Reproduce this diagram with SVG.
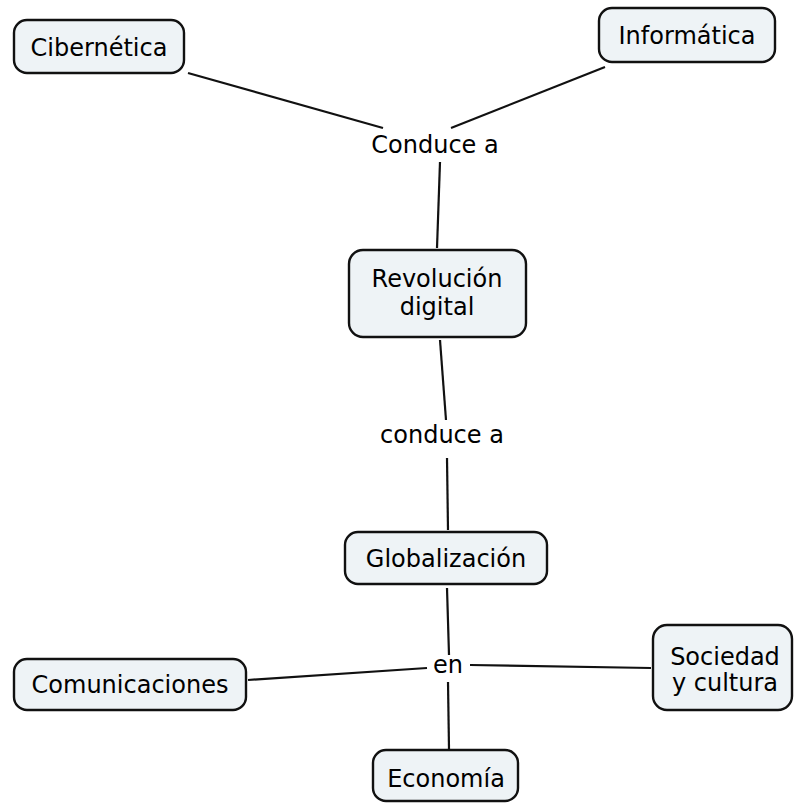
<svg xmlns="http://www.w3.org/2000/svg" width="795" height="803" viewBox="0 0 795 803">
<style>
.box{fill:#eef3f6;stroke:#111;stroke-width:2.4}
.t{font-family:"DejaVu Sans",Verdana,sans-serif;font-size:24px;fill:#000;text-anchor:middle}
.c line{stroke:#111;stroke-width:2.2}
</style>
<rect width="795" height="803" fill="#fff"/>
<g class="c" id="connectors">
<line x1="188" y1="73" x2="383" y2="128"/>
<line x1="605" y1="67" x2="451" y2="128"/>
<line x1="440" y1="162" x2="437" y2="248"/>
<line x1="440" y1="340" x2="446" y2="420"/>
<line x1="447" y1="458" x2="448" y2="530"/>
<line x1="447" y1="588" x2="449" y2="655"/>
<line x1="427" y1="668" x2="248" y2="680"/>
<line x1="470" y1="665" x2="651" y2="668"/>
<line x1="448" y1="682" x2="449" y2="749"/>
</g>
<g id="cibernetica"><rect class="box" x="14" y="20" width="170" height="53" rx="13"/><text class="t" x="99" y="56">Cibernética</text></g>
<g id="informatica"><rect class="box" x="599" y="8" width="176" height="54" rx="13"/><text class="t" x="687" y="44">Informática</text></g>
<g id="l-conduce1"><text class="t" x="435" y="153">Conduce a</text></g>
<g id="revolucion"><rect class="box" x="349" y="250" width="177" height="87" rx="14"/><text class="t" x="437" y="287">Revolución</text><text class="t" x="437" y="315">digital</text></g>
<g id="l-conduce2"><text class="t" x="442" y="443">conduce a</text></g>
<g id="globalizacion"><rect class="box" x="345" y="532" width="202" height="52" rx="13"/><text class="t" x="446" y="567">Globalización</text></g>
<g id="l-en"><text class="t" x="448" y="673">en</text></g>
<g id="comunicaciones"><rect class="box" x="14" y="659" width="232" height="51" rx="13"/><text class="t" x="130" y="693">Comunicaciones</text></g>
<g id="sociedad"><rect class="box" x="653" y="625" width="139" height="85" rx="14"/><text class="t" x="725" y="665">Sociedad</text><text class="t" x="725" y="691">y cultura</text></g>
<g id="economia"><rect class="box" x="373" y="750" width="145" height="51" rx="13"/><text class="t" x="446" y="787">Economía</text></g>
</svg>
